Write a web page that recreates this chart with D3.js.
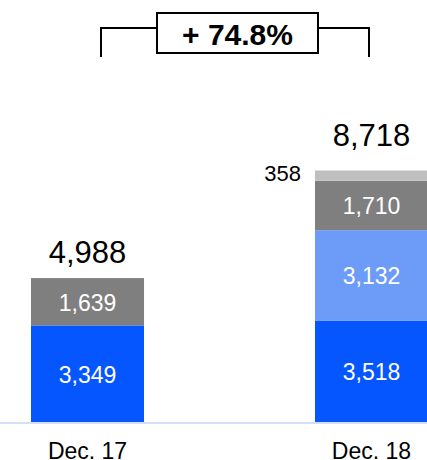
<!DOCTYPE html>
<html>
<head>
<meta charset="utf-8">
<script src="https://cdn.jsdelivr.net/npm/d3@7"></script>
<style>
  body { margin: 0; background: #fff; }
  text { font-family: "Liberation Sans", Arial, sans-serif; }
</style>
</head>
<body>
<script>
// chart data
var categories = ["Dec. 17", "Dec. 18"];
var seriesNames = ["s1", "s2", "s3", "s4"];
var s1 = [3349, 3518];
var s2 = [0, 3132];
var s3 = [1639, 1710];
var s4 = [0, 358];
var totals = [4988, 8718];
var growthLabel = "+ 74.8%";

var colors = ["#0556FF", "#6D9CF8", "#7F7F7F", "#BFBFBF"];

var width = 427, height = 460;
var format = d3.format(",");

var svg = d3.select("body")
  .append("svg")
  .attr("width", width)
  .attr("height", height);

// scales
var x = d3.scaleBand()
  .domain(categories)
  .range([31, 428])
  .paddingInner(0.602)
  .paddingOuter(0);

var y = d3.scaleLinear()
  .domain([0, 8718])
  .range([422, 170.5]);

// build stacked rows
var rows = categories.map(function (c, i) {
  return { cat: c, s1: s1[i], s2: s2[i], s3: s3[i], s4: s4[i] };
});
var stack = d3.stack().keys(seriesNames)(rows);

var layers = svg.append("g")
  .selectAll("g")
  .data(stack)
  .enter().append("g")
  .style("fill", function (d, i) { return colors[i]; });

layers.selectAll("rect")
  .data(function (d) { return d; })
  .enter().append("rect")
  .attr("x", function (d) { return x(d.data.cat); })
  .attr("y", function (d) { return y(d[1]); })
  .attr("width", x.bandwidth())
  .attr("height", function (d) { return y(d[0]) - y(d[1]); });

// segment labels (inside, white), skip empty ones
stack.forEach(function (layer, li) {
  layer.forEach(function (d) {
    var v = d[1] - d[0];
    if (v <= 0) return;
    if (li === 3) {
      // small top segment labelled to the left
      svg.append("text")
        .attr("x", x(d.data.cat) - 14)
        .attr("y", (y(d[0]) + y(d[1])) / 2 + 5.5)
        .attr("text-anchor", "end")
        .style("font-size", "22px")
        .style("fill", "#000")
        .text(format(v));
      return;
    }
    svg.append("text")
      .attr("x", x(d.data.cat) + x.bandwidth() / 2)
      .attr("y", (y(d[0]) + y(d[1])) / 2 + 9)
      .attr("text-anchor", "middle")
      .style("font-size", "23px")
      .style("fill", "#fff")
      .text(format(v));
  });
});

// totals
var totalGap = [15, 24.5];
svg.selectAll(".total")
  .data(totals)
  .enter().append("text")
  .attr("class", "total")
  .attr("x", function (d, i) { return x(categories[i]) + x.bandwidth() / 2; })
  .attr("y", function (d, i) { return y(d) - totalGap[i]; })
  .attr("text-anchor", "middle")
  .style("font-size", "31px")
  .style("fill", "#000")
  .text(function (d) { return format(d); });

// baseline
svg.append("line")
  .attr("x1", 0).attr("x2", width)
  .attr("y1", 423).attr("y2", 423)
  .style("stroke", "#D4DEF7")
  .style("stroke-width", 2);

// x labels
svg.selectAll(".xlab")
  .data(categories)
  .enter().append("text")
  .attr("class", "xlab")
  .attr("x", function (d) { return x(d) + x.bandwidth() / 2; })
  .attr("y", 458.5)
  .attr("text-anchor", "middle")
  .style("font-size", "23px")
  .style("fill", "#000")
  .text(function (d) { return d; });

// growth bracket
var bx1 = 101, bx2 = 369, by = 28, byEnd = 57;
var boxL = 157, boxR = 318, boxT = 13, boxB = 53;
var br = svg.append("g")
  .style("stroke", "#000")
  .style("stroke-width", 2)
  .style("fill", "none");
br.append("path")
  .attr("d", "M" + bx1 + "," + byEnd + "V" + by + "H" + boxL);
br.append("path")
  .attr("d", "M" + boxR + "," + by + "H" + bx2 + "V" + byEnd);
br.append("rect")
  .attr("x", boxL).attr("y", boxT)
  .attr("width", boxR - boxL).attr("height", boxB - boxT)
  .style("fill", "#fff");

svg.append("text")
  .attr("x", (boxL + boxR) / 2)
  .attr("y", 45)
  .attr("text-anchor", "middle")
  .style("font-size", "30px")
  .style("font-weight", "bold")
  .style("fill", "#000")
  .text(growthLabel);
</script>
</body>
</html>
